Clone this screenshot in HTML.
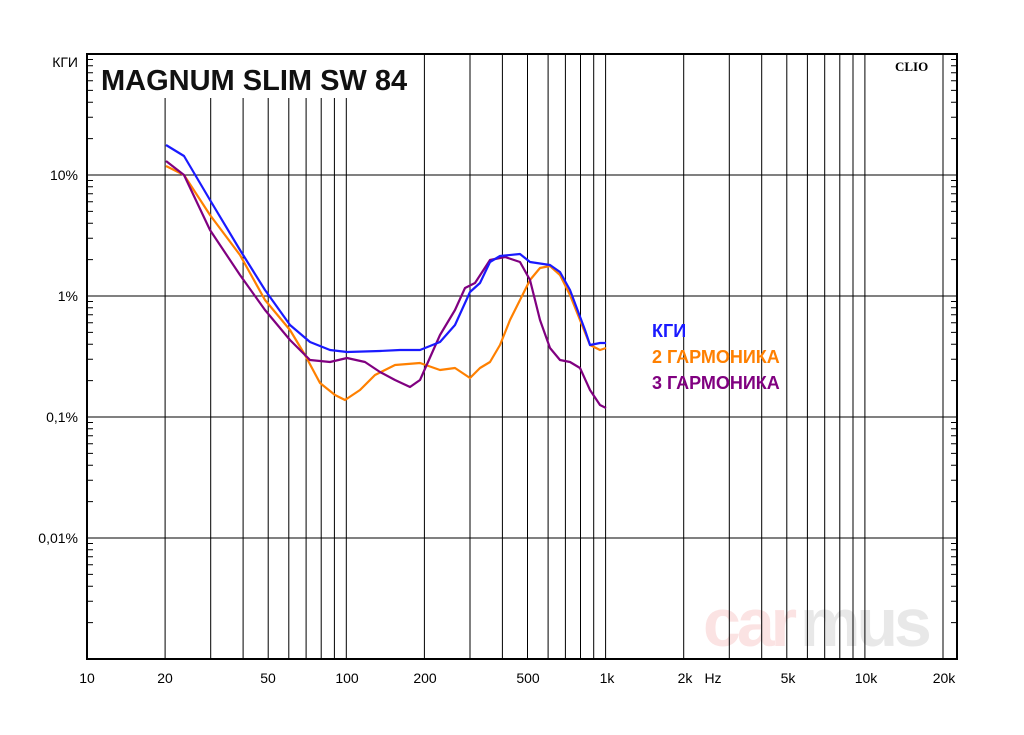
<!DOCTYPE html>
<html><head><meta charset="utf-8"><style>
body{margin:0;background:#fff;}
svg text{font-family:"Liberation Sans",sans-serif;}
</style></head><body>
<svg width="1024" height="730" xmlns="http://www.w3.org/2000/svg">
<rect width="1024" height="730" fill="#fff"/>
<text x="703" y="646" font-size="68" font-weight="bold" fill="#fbe3e3" letter-spacing="-4">car</text>
<text x="800" y="646" font-size="68" font-weight="bold" fill="#e8e8e8" letter-spacing="-4">mus</text>
<g stroke="#000" stroke-width="1" fill="none">
<path d="M165.1 98V659M210.7 98V659M243.1 98V659M268.2 98V659M288.8 98V659M306.1 98V659M321.2 98V659M334.4 98V659M346.3 98V659
M424.4 54V659M470 54V659M502.4 54V659M527.5 54V659M548.1 54V659M565.4 54V659M580.5 54V659M593.7 54V659M605.6 54V659
M683.7 54V659M729.3 54V659M761.7 54V659M786.8 54V659M807.4 54V659M824.7 54V659M839.8 54V659M853 54V659M864.9 54V659M943 54V659
M87 175H957M87 296H957M87 417H957M87 538H957"/>
<path d="M87 138.6h6M87 117.3h6M87 102.2h6M87 90.4h6M87 80.8h6M87 72.7h6M87 65.7h6M87 59.5h6
M87 259.6h6M87 238.3h6M87 223.2h6M87 211.4h6M87 201.8h6M87 193.7h6M87 186.7h6M87 180.5h6
M87 380.6h6M87 359.3h6M87 344.2h6M87 332.4h6M87 322.8h6M87 314.7h6M87 307.7h6M87 301.5h6
M87 501.6h6M87 480.3h6M87 465.2h6M87 453.4h6M87 443.8h6M87 435.7h6M87 428.7h6M87 422.5h6
M87 622.6h6M87 601.3h6M87 586.2h6M87 574.4h6M87 564.8h6M87 556.7h6M87 549.7h6M87 543.5h6
M951 138.6h6M951 117.3h6M951 102.2h6M951 90.4h6M951 80.8h6M951 72.7h6M951 65.7h6M951 59.5h6
M951 259.6h6M951 238.3h6M951 223.2h6M951 211.4h6M951 201.8h6M951 193.7h6M951 186.7h6M951 180.5h6
M951 380.6h6M951 359.3h6M951 344.2h6M951 332.4h6M951 322.8h6M951 314.7h6M951 307.7h6M951 301.5h6
M951 501.6h6M951 480.3h6M951 465.2h6M951 453.4h6M951 443.8h6M951 435.7h6M951 428.7h6M951 422.5h6
M951 622.6h6M951 601.3h6M951 586.2h6M951 574.4h6M951 564.8h6M951 556.7h6M951 549.7h6M951 543.5h6"/>
</g>
<rect x="95" y="55" width="323" height="43" fill="#fff"/>
<text x="101" y="90" font-size="29" font-weight="bold" fill="#111">MAGNUM SLIM SW 84</text>
<text x="895" y="71" font-size="13" font-weight="bold" style="font-family:'Liberation Serif',serif">CLIO</text>
<g font-size="14" fill="#000" text-anchor="end">
<text x="78" y="67">КГИ</text><text x="78" y="180">10%</text><text x="78" y="301">1%</text><text x="78" y="422">0,1%</text><text x="78" y="543">0,01%</text>
</g>
<g font-size="14" fill="#000" text-anchor="middle">
<text x="87" y="683">10</text><text x="165" y="683">20</text><text x="268" y="683">50</text><text x="347" y="683">100</text><text x="425" y="683">200</text><text x="528" y="683">500</text><text x="607" y="683">1k</text><text x="685" y="683">2k</text><text x="713" y="683">Hz</text><text x="788" y="683">5k</text><text x="866" y="683">10k</text><text x="944" y="683">20k</text>
</g>
<g fill="none" stroke-width="2.2" stroke-linejoin="round">
<polyline stroke="#ff8000" points="166,166 184,175 210,215 240,255 265,300 290,330 305,355 320,383 335,395 345,400 360,390 375,375 395,365 420,363 440,370 455,368 470,378 480,368 490,362 500,345 510,320 520,300 530,280 540,268 550,266 560,275 570,295 580,320 590,345 600,350 606,348"/>
<polyline stroke="#800080" points="166,161 184,175 210,230 240,275 265,310 290,340 310,360 330,362 347,358 365,362 380,372 395,380 410,387 420,380 440,335 455,310 465,288 475,283 490,260 505,257 520,262 530,280 540,320 550,348 560,360 570,362 580,368 590,390 600,405 606,408"/>
<polyline stroke="#1a1aff" points="166,145 184,156 210,200 240,250 265,290 290,325 310,342 330,350 347,352 380,351 400,350 420,350 440,342 455,325 470,292 480,283 490,262 500,256 520,254 530,262 550,265 560,272 570,290 585,330 590,345 600,343 606,343"/>
</g>
<g font-size="18" font-weight="bold">
<text x="652" y="337" fill="#1a1aff">КГИ</text>
<text x="652" y="363" fill="#ff8000">2 ГАРМОНИКА</text>
<text x="652" y="389" fill="#800080">3 ГАРМОНИКА</text>
</g>
<rect x="87" y="54" width="870" height="605" fill="none" stroke="#000" stroke-width="2"/>
</svg>
</body></html>
